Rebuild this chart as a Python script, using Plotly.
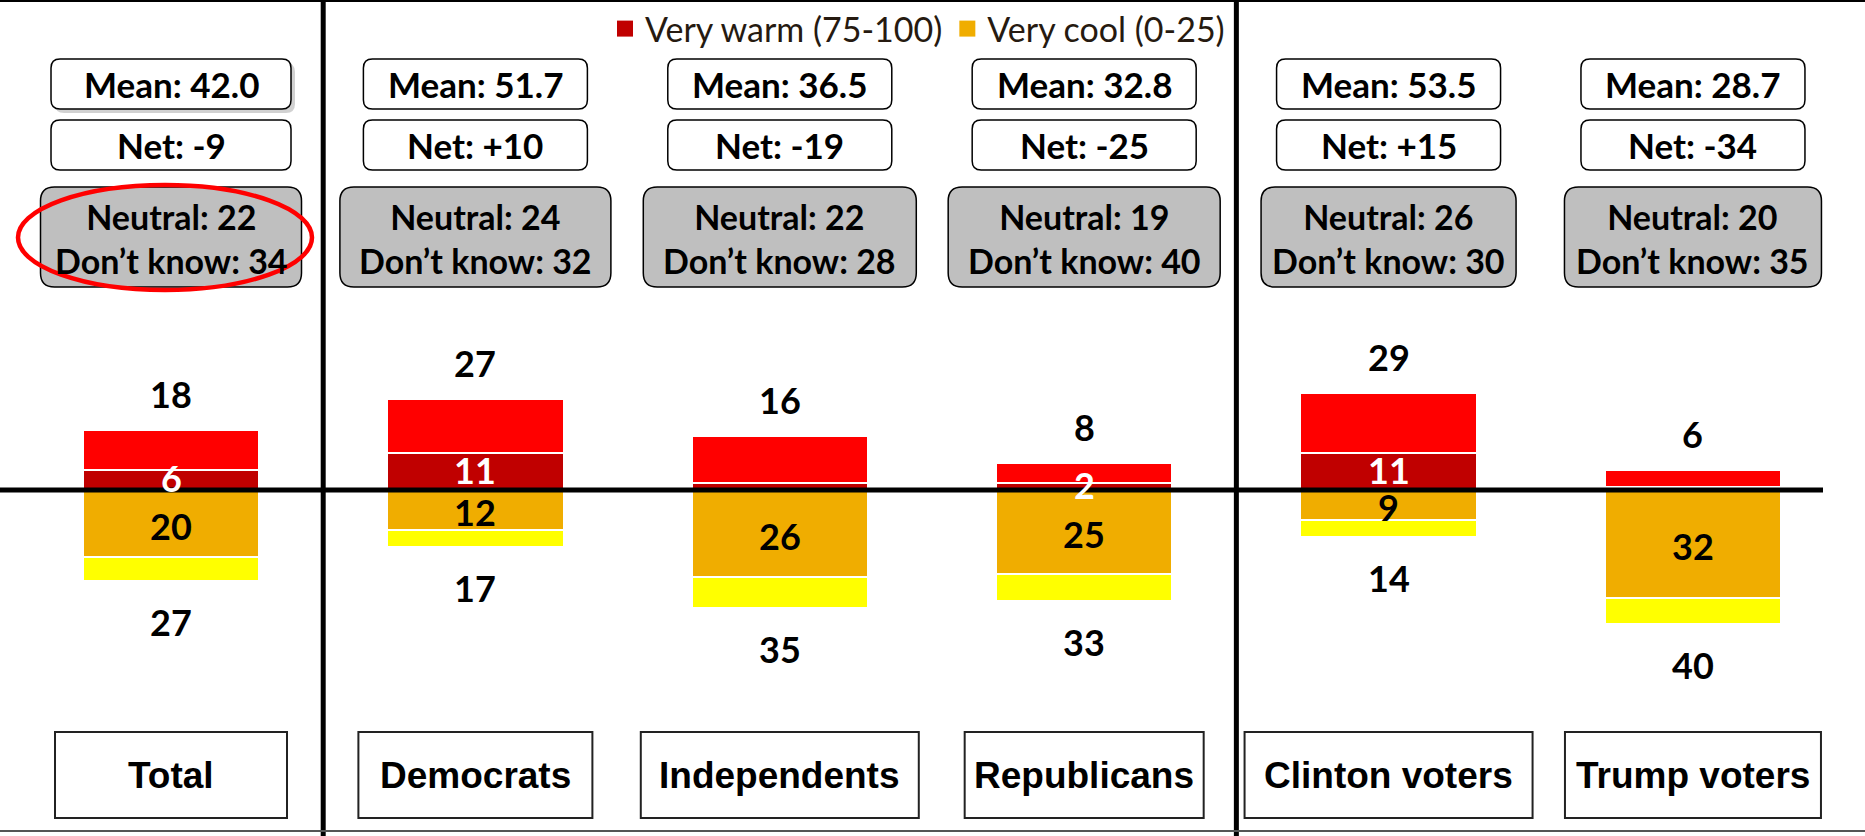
import plotly.graph_objects as go

# ---------------- data ----------------
categories = ["Total", "Democrats", "Independents", "Republicans", "Clinton voters", "Trump voters"]
warm_total = [18, 27, 16, 8, 29, 6]          # warm total, shown above bars
very_warm = [6, 11, 2, 2, 11, 1]             # very warm (75-100)
very_warm_labels = ["6", "11", "", "2", "11", ""]
cool_total = [27, 17, 35, 33, 14, 40]        # cool total, shown below bars
very_cool = [20, 12, 26, 25, 9, 32]          # very cool (0-25)
means = [42.0, 51.7, 36.5, 32.8, 53.5, 28.7]
neutral = [22, 24, 22, 19, 26, 20]
dont_know = [34, 32, 28, 40, 30, 35]
legend_names = ["Very warm (75-100)", "Very cool (0-25)"]

# ---------------- styles / layout constants ----------------
W, H = 1865, 836
X_RANGE = [-0.5618, 5.5652]
Y_RANGE = [-102.98, 145.83]
BAR_W = 0.58
C_VWARM, C_WARM, C_VCOOL, C_COOL = "#C00000", "#FF0000", "#F0AD00", "#FFFF00"
TXT_FONT = "Lato"
CAT_FONT = "Liberation Sans"
mean_box_w = [240, 224, 224, 224, 224, 224]
net_box_w = [240, 224, 224, 224, 224, 224]
neutral_box_w = [261, 271, 273, 272, 255, 257]
cat_box_w = [232, 234, 278, 239, 288, 256]


def x_to_px(x):
    return (x - X_RANGE[0]) / (X_RANGE[1] - X_RANGE[0]) * W


def px_x(px):
    return px / W


def px_y(py):
    return 1 - py / H


def rrect_path(x0, y0, x1, y1, r):
    X, Y = px_x, px_y
    return (f"M {X(x0 + r)},{Y(y0)} L {X(x1 - r)},{Y(y0)} Q {X(x1)},{Y(y0)} {X(x1)},{Y(y0 + r)} "
            f"L {X(x1)},{Y(y1 - r)} Q {X(x1)},{Y(y1)} {X(x1 - r)},{Y(y1)} "
            f"L {X(x0 + r)},{Y(y1)} Q {X(x0)},{Y(y1)} {X(x0)},{Y(y1 - r)} "
            f"L {X(x0)},{Y(y0 + r)} Q {X(x0)},{Y(y0)} {X(x0 + r)},{Y(y0)} Z")


def label(x, y, text, size, color="black", family=TXT_FONT, xref="x", yref="paper", yshift=0):
    return dict(x=x, y=y, xref=xref, yref=yref, xanchor="center", yanchor="middle",
                yshift=yshift, showarrow=False, text=text,
                font=dict(family=family, size=size, color=color))


idx = list(range(len(categories)))
warm_rest = [w - v for w, v in zip(warm_total, very_warm)]
cool_rest = [c - v for c, v in zip(cool_total, very_cool)]

fig = go.Figure()
edge = dict(color="white", width=2)
fig.add_bar(x=idx, y=very_warm, name=legend_names[0], width=BAR_W, showlegend=False,
            marker=dict(color=C_VWARM, line=edge), hoverinfo="skip")
fig.add_bar(x=idx, y=[-v for v in very_cool], name=legend_names[1], width=BAR_W, showlegend=False,
            marker=dict(color=C_VCOOL, line=edge), hoverinfo="skip")
fig.add_bar(x=idx, y=warm_rest, name="Warm", width=BAR_W, showlegend=False,
            marker=dict(color=C_WARM, line=edge), hoverinfo="skip")
fig.add_bar(x=idx, y=[-v for v in cool_rest], name="Cool", width=BAR_W, showlegend=False,
            marker=dict(color=C_COOL, line=edge), hoverinfo="skip")
# legend entries (square keys)
for name, col in zip(legend_names, [C_VWARM, C_VCOOL]):
    fig.add_scatter(x=[None], y=[None], mode="markers", name=name,
                    marker=dict(symbol="square", size=17, color=col))

shapes = []
annotations = []

for i in idx:
    cx = x_to_px(i)
    # Mean box
    w = mean_box_w[i]
    if i == 0:
        shapes.append(dict(type="path", xref="paper", yref="paper",
                           path=rrect_path(cx - w / 2 + 4, 63, cx + w / 2 + 4, 113, 9),
                           fillcolor="rgba(0,0,0,0.18)", line=dict(width=0)))
    shapes.append(dict(type="path", xref="paper", yref="paper",
                       path=rrect_path(cx - w / 2, 59, cx + w / 2, 109, 9),
                       fillcolor="white", line=dict(color="black", width=1.5)))
    annotations.append(label(i, px_y(84), f"<b>Mean: {means[i]:.1f}</b>", 35))
    # Net box
    w = net_box_w[i]
    shapes.append(dict(type="path", xref="paper", yref="paper",
                       path=rrect_path(cx - w / 2, 120, cx + w / 2, 170, 9),
                       fillcolor="white", line=dict(color="black", width=1.5)))
    net = warm_total[i] - cool_total[i]
    annotations.append(label(i, px_y(145), f"<b>Net: {net:+d}</b>", 35))
    # Neutral / don't know box
    w = neutral_box_w[i]
    shapes.append(dict(type="path", xref="paper", yref="paper",
                       path=rrect_path(cx - w / 2, 187, cx + w / 2, 287, 14),
                       fillcolor="#BFBFBF", line=dict(color="black", width=1.5)))
    annotations.append(label(i, px_y(238),
                             f"<b>Neutral: {neutral[i]}<br>Don\u2019t know: {dont_know[i]}</b>", 34))
    # Category box
    w = cat_box_w[i]
    shapes.append(dict(type="rect", xref="paper", yref="paper",
                       x0=px_x(cx - w / 2), x1=px_x(cx + w / 2), y0=px_y(732), y1=px_y(818),
                       fillcolor="white", line=dict(color="#222222", width=2)))
    annotations.append(label(i, px_y(775), f"<b>{categories[i]}</b>", 37, family=CAT_FONT))
    # Bar value labels
    annotations.append(label(i, warm_total[i], f"<b>{warm_total[i]}</b>", 36, yref="y", yshift=36))
    annotations.append(label(i, -cool_total[i], f"<b>{cool_total[i]}</b>", 36, yref="y", yshift=-41))
    annotations.append(label(i, -very_cool[i] / 2, f"<b>{very_cool[i]}</b>", 36, yref="y", yshift=-2))
    if very_warm_labels[i]:
        annotations.append(label(i, very_warm[i] / 2, f"<b>{very_warm_labels[i]}</b>", 36,
                                 color="white", yref="y", yshift=2))

# zero line, separators, frame lines
shapes.append(dict(type="line", xref="paper", yref="y", x0=0, x1=px_x(1823), y0=0, y1=0,
                   line=dict(color="black", width=5)))
for sx in [0.5, 3.5]:
    shapes.append(dict(type="line", xref="x", yref="paper", x0=sx, x1=sx, y0=0, y1=1,
                       line=dict(color="black", width=5)))
shapes.append(dict(type="line", xref="paper", yref="paper", x0=0, x1=1, y0=px_y(1), y1=px_y(1),
                   line=dict(color="black", width=2)))
shapes.append(dict(type="line", xref="paper", yref="paper", x0=0, x1=1, y0=px_y(831), y1=px_y(831),
                   line=dict(color="#555555", width=2)))
# highlight ellipse around Total's neutral box
shapes.append(dict(type="circle", xref="paper", yref="paper",
                   x0=px_x(18), x1=px_x(312), y0=px_y(185), y1=px_y(290),
                   line=dict(color="#FF0000", width=4.5)))

fig.update_layout(
    width=W, height=H,
    margin=dict(l=0, r=0, t=0, b=0),
    barmode="relative",
    bargap=0,
    plot_bgcolor="white", paper_bgcolor="white",
    xaxis=dict(range=X_RANGE, visible=False, fixedrange=True),
    yaxis=dict(range=Y_RANGE, visible=False, fixedrange=True),
    showlegend=True,
    legend=dict(orientation="h", x=px_x(605), xanchor="left", y=1, yanchor="top",
                traceorder="normal", bgcolor="rgba(0,0,0,0)", itemwidth=30,
                font=dict(family=TXT_FONT, size=34, color="#261A10")),
    shapes=shapes,
    annotations=annotations,
)

fig.write_html("out.html", config={"displayModeBar": False},
               post_script="document.body.style.margin='0';document.body.style.overflow='hidden';")
